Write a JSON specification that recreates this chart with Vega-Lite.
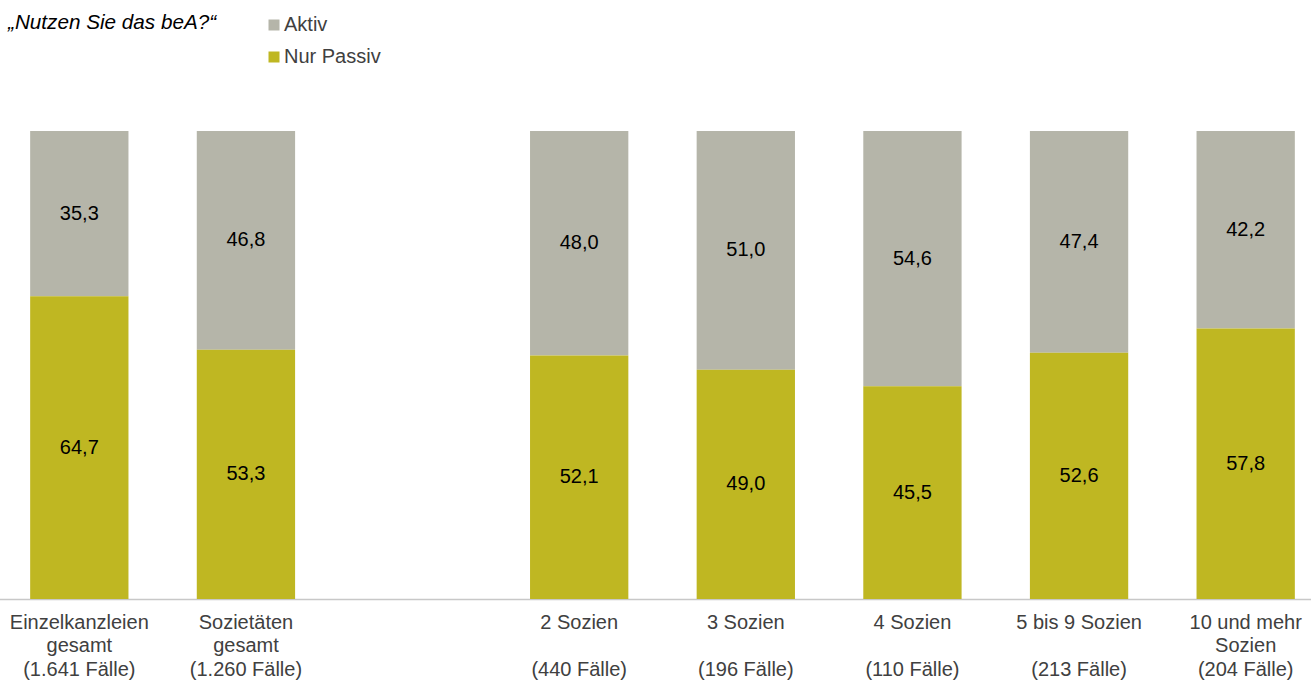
{
  "$schema": "https://vega.github.io/schema/vega-lite/v6.json",
  "autosize": "none",
  "width": 1333,
  "height": 468,
  "padding": {"left": -4, "top": 131, "right": 0, "bottom": 81},
  "title": {
    "text": "„Nutzen Sie das beA?“",
    "anchor": "start",
    "frame": "group",
    "orient": "top",
    "offset": -35,
    "dx": 12,
    "baseline": "alphabetic",
    "font": "Liberation Sans",
    "fontSize": 20.7,
    "fontStyle": "italic",
    "fontWeight": "normal",
    "color": "#000000"
  },
  "config": {
    "view": {"stroke": null},
    "locale": {"number": {"decimal": ",", "thousands": ".", "grouping": [3], "currency": ["", " €"]}},
    "font": "Liberation Sans"
  },
  "data": {
    "values": [
      {"cat": "Einzelkanzleien\ngesamt\n(1.641 Fälle)", "Status": "Aktiv", "value": 35.3},
      {"cat": "Einzelkanzleien\ngesamt\n(1.641 Fälle)", "Status": "Nur Passiv", "value": 64.7},
      {"cat": "Sozietäten\ngesamt\n(1.260 Fälle)", "Status": "Aktiv", "value": 46.8},
      {"cat": "Sozietäten\ngesamt\n(1.260 Fälle)", "Status": "Nur Passiv", "value": 53.3},
      {"cat": "2 Sozien\n\u200b\n(440 Fälle)", "Status": "Aktiv", "value": 48.0},
      {"cat": "2 Sozien\n\u200b\n(440 Fälle)", "Status": "Nur Passiv", "value": 52.1},
      {"cat": "3 Sozien\n\u200b\n(196 Fälle)", "Status": "Aktiv", "value": 51.0},
      {"cat": "3 Sozien\n\u200b\n(196 Fälle)", "Status": "Nur Passiv", "value": 49.0},
      {"cat": "4 Sozien\n\u200b\n(110 Fälle)", "Status": "Aktiv", "value": 54.6},
      {"cat": "4 Sozien\n\u200b\n(110 Fälle)", "Status": "Nur Passiv", "value": 45.5},
      {"cat": "5 bis 9 Sozien\n\u200b\n(213 Fälle)", "Status": "Aktiv", "value": 47.4},
      {"cat": "5 bis 9 Sozien\n\u200b\n(213 Fälle)", "Status": "Nur Passiv", "value": 52.6},
      {"cat": "10 und mehr\nSozien\n(204 Fälle)", "Status": "Aktiv", "value": 42.2},
      {"cat": "10 und mehr\nSozien\n(204 Fälle)", "Status": "Nur Passiv", "value": 57.8}
    ]
  },
  "encoding": {
    "x": {
      "field": "cat",
      "type": "nominal",
      "scale": {
        "domain": [
          "Einzelkanzleien\ngesamt\n(1.641 Fälle)",
          "Sozietäten\ngesamt\n(1.260 Fälle)",
          " ",
          "2 Sozien\n\u200b\n(440 Fälle)",
          "3 Sozien\n\u200b\n(196 Fälle)",
          "4 Sozien\n\u200b\n(110 Fälle)",
          "5 bis 9 Sozien\n\u200b\n(213 Fälle)",
          "10 und mehr\nSozien\n(204 Fälle)"
        ],
        "paddingInner": 0.41,
        "paddingOuter": 0.205
      },
      "axis": {
        "title": null,
        "labelAngle": 0,
        "labelExpr": "split(datum.label, '\\n')",
        "labelFontSize": 20,
        "labelColor": "#404040",
        "labelLineHeight": 23.5,
        "labelPadding": 13,
        "labelBaseline": "top",
        "ticks": false,
        "domainColor": "#c8c8c8",
        "domainWidth": 1.5,
        "grid": false
      }
    }
  },
  "layer": [
    {
      "mark": {"type": "bar"},
      "encoding": {
        "y": {"field": "value", "type": "quantitative", "stack": "normalize", "scale": {"domain": [0, 1]}, "axis": null},
        "color": {
          "field": "Status",
          "type": "nominal",
          "scale": {"domain": ["Aktiv", "Nur Passiv"], "range": ["#b5b5a9", "#bfb722"]},
          "legend": {
            "title": null,
            "orient": "none",
            "legendX": 268,
            "legendY": -116,
            "symbolType": "square",
            "symbolSize": 121,
            "symbolStrokeWidth": 0,
            "symbolOpacity": 1,
            "labelFontSize": 20,
            "labelColor": "#404040",
            "labelOffset": 0,
            "rowPadding": 12,
            "padding": 0
          }
        },
        "order": {"field": "Status", "sort": "descending"}
      }
    },
    {
      "transform": [
        {"stack": "value", "groupby": ["cat"], "offset": "normalize", "sort": [{"field": "Status", "order": "descending"}], "as": ["v0", "v1"]},
        {"calculate": "(datum.v0 + datum.v1) / 2", "as": "mid"}
      ],
      "mark": {"type": "text", "fontSize": 20, "color": "#000000", "baseline": "middle"},
      "encoding": {
        "y": {"field": "mid", "type": "quantitative"},
        "text": {"field": "value", "type": "quantitative", "format": ".1f"}
      }
    }
  ]
}
